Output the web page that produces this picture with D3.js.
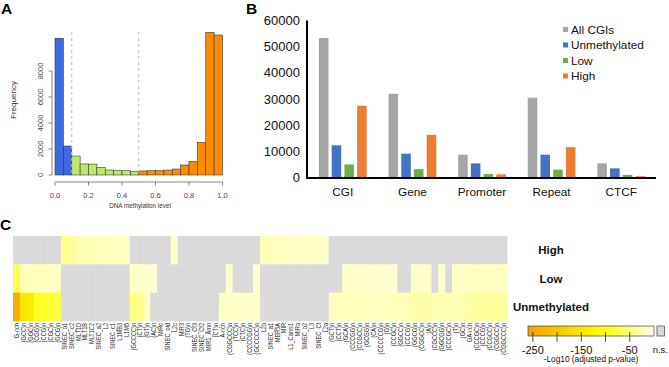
<!DOCTYPE html>
<html><head><meta charset="utf-8">
<script src="https://cdn.jsdelivr.net/npm/d3@7"></script>
<style>
body{margin:0;background:#fff;}
svg{display:block;font-family:"Liberation Sans",Arial,sans-serif;}
</style></head>
<body>
<svg id="c" width="669" height="367"></svg>
<script>
// ---------- Panel A data ----------
const histCounts = [10520, 2230, 1460, 850, 840, 590, 385, 330, 330, 260,
                    310, 330, 340, 380, 460, 770, 1050, 2510, 10970, 10770];
const histBinWidth = 0.05;
const histGroups = ["u","u","l","l","l","l","l","l","l","l",
                    "h","h","h","h","h","h","h","h","h","h"];
const histYTicks = [0, 2000, 4000, 6000, 8000];
const histXTicks = [0, 0.2, 0.4, 0.6, 0.8, 1.0];
const cutoffs = [0.1, 0.5];

// ---------- Panel B data ----------
const bCategories = ["CGI", "Gene", "Promoter", "Repeat", "CTCF"];
const bSeries = ["All CGIs", "Unmethylated", "Low", "High"];
const allCGIs = [53300, 32000, 8700, 30500, 5400];
const unmethylated = [12300, 9100, 5400, 8700, 3500];
const lowCounts = [5000, 3200, 1300, 3000, 1000];
const highCounts = [27400, 16300, 1200, 11600, 500];
const bYTicks = [0, 10000, 20000, 30000, 40000, 50000, 60000];

// ---------- Panel C data ----------
const colLabels = ["G-rich","(GCC)n","(GGC)n","(CGG)n","(CCG)n","(CGC)n","(GCG)n",
 "SINEC_b1","SINEC_c2","MLT1D","MLT1B","MLT1C2","SINEC_a2","L2","SINEC_c1","L1MB3","L1M5",
 "(GCCCC)n","(CT)n","(GT)n","(AC)n","MIRc","SINEC_old","L2c","MIR3","(TG)n","SINEC_Cf3","SINEC_Cf2",
 "MIR1_Amn","(CT)n","A-rich","(CGGCCC)n","(TCC)n","(CTC)n","(CCCCGG)n","(GCCCCC)n",
 "L2b","SINEC_a1","MER5A","MIR","L1_Canis1","MIRb","SINEC_b2","L3","SINEC_Cf","L2a",
 "(GCT)n","(CCT)n","(GCA)n","(CCCGG)n","(CCGCC)n","(GCGG)n","(CA)n","(CCCCCG)n","(G)n","(CCGC)n",
 "(GGCC)n","(CCCG)n","(GGCG)n","(CGGCC)n","(A)n","(CGCCC)n","(GGCGG)n","(CCCGC)n","(T)n","(GC)n",
 "GA-rich","(CCCGC)n","(CCCG)n","(CCGCC)n","(CGGCC)n","(CGGCCC)n"];
const rowLabels = ["High", "Low", "Unmethylated"];
const N = null;
const highVals = [N,N,N,N,N,N,N,
 -45,-38,-28,-25,-25,-22,-22,-20,-20,-18,
 N,N,N,N,N,N,-15,N,N,N,N,
 N,N,N,N,N,N,N,N,
 -22,-20,-18,-18,-18,-16,-16,-16,-15,-15,
 N,N,N,N,N,N,N,N,N,N,
 N,N,N,N,N,N,N,N,N,N,
 N,N,N,N,N,N];
const lowVals = [-70,-25,-22,-20,-20,-18,-18,
 N,N,N,N,N,N,N,N,N,N,
 -18,-15,-12,-12,N,N,N,N,N,N,N,
 N,N,N,-12,N,N,N,-12,
 N,N,N,N,N,N,N,N,N,N,
 N,N,-14,-14,-13,-13,-12,-12,-12,-12,
 N,N,-14,-14,-13,N,-13,N,-15,-15,
 -18,-18,-18,-20,-20,-20];
const unmethVals = [-235,-150,-140,-95,-92,-85,-80,
 N,N,N,N,N,N,N,N,N,N,
 -50,-45,-20,N,N,N,N,N,N,N,N,
 N,N,-15,-15,-15,-15,-15,-15,
 N,N,N,N,N,N,N,N,N,N,
 -20,-22,-22,-20,-20,-20,-18,-20,-20,-22,
 -22,-25,-30,-30,-30,-25,-25,-22,-22,-25,
 -30,-35,-35,-35,-35,-35];
const legendTicks = [-250, -200, -150, -100, -50];
const legendLabels = [-250, -150, -50];

const svg = d3.select("#c");

// ================= Panel A =================
const ax = d3.scaleLinear().domain([0, 1]).range([55, 222.5]);
const ay = d3.scaleLinear().domain([0, 8000]).range([175, 71]);
const histColor = {u: "#4169e1", l: "#bce86a", h: "#ff8c00"};
const gA = svg.append("g");
gA.selectAll("rect.h").data(histCounts).join("rect")
  .attr("x", (d, i) => ax(i * histBinWidth))
  .attr("width", (d, i) => ax((i + 1) * histBinWidth) - ax(i * histBinWidth))
  .attr("y", d => ay(d)).attr("height", d => ay(0) - ay(d))
  .attr("fill", (d, i) => histColor[histGroups[i]])
  .attr("stroke", "#3a3a3a").attr("stroke-width", 0.6);
gA.selectAll("line.cut").data(cutoffs).join("line")
  .attr("x1", d => ax(d)).attr("x2", d => ax(d)).attr("y1", 32).attr("y2", 175)
  .attr("stroke", "#b8b8b8").attr("stroke-width", 1).attr("stroke-dasharray", "3,3");
// y axis
gA.append("line").attr("x1", 52).attr("x2", 52).attr("y1", ay(0)).attr("y2", ay(8000)).attr("stroke", "#555").attr("stroke-width", 0.7);
gA.selectAll("line.yt").data(histYTicks).join("line")
  .attr("x1", 48.5).attr("x2", 52).attr("y1", d => ay(d)).attr("y2", d => ay(d)).attr("stroke", "#555").attr("stroke-width", 0.7);
gA.selectAll("text.yt").data(histYTicks).join("text")
  .attr("transform", d => `translate(43,${ay(d)}) rotate(-90)`)
  .attr("text-anchor", "middle").attr("font-size", 7.5).attr("fill", "#444").text(d => d);
gA.append("text").attr("transform", "translate(16,100) rotate(-90)").attr("text-anchor", "middle")
  .attr("font-size", 8).attr("fill", "#333").text("Frequency");
// x axis
gA.append("line").attr("x1", ax(0)).attr("x2", ax(1)).attr("y1", 182).attr("y2", 182).attr("stroke", "#555").attr("stroke-width", 0.7);
gA.selectAll("line.xt").data(histXTicks).join("line")
  .attr("x1", d => ax(d)).attr("x2", d => ax(d)).attr("y1", 182).attr("y2", 185.5).attr("stroke", "#555").attr("stroke-width", 0.7);
gA.selectAll("text.xt").data(histXTicks).join("text")
  .attr("x", d => ax(d)).attr("y", 198).attr("text-anchor", "middle")
  .attr("font-size", 7.5).attr("fill", "#444").text(d => d.toFixed(1));
gA.append("text").attr("x", 140).attr("y", 207.5).attr("text-anchor", "middle")
  .attr("font-size", 6.3).attr("fill", "#333").text("DNA methylation level");
svg.append("text").attr("x", 1).attr("y", 13.5).attr("font-size", 15.5).attr("font-weight", "bold").text("A");

// ================= Panel B =================
const bx = d3.scaleBand().domain(bCategories).range([308, 656]);
const bxs = d3.scaleBand().domain(bSeries).range([0, bx.bandwidth()]).paddingInner(0.25).paddingOuter(0.86);
const by = d3.scaleLinear().domain([0, 60000]).range([177.5, 20.5]);
const bColors = ["#a5a5a5", "#4472c4", "#70ad47", "#ed7d31"];
const bData = [allCGIs, unmethylated, lowCounts, highCounts];
const gB = svg.append("g");
bData.forEach((vals, si) => {
  gB.selectAll(null).data(vals).join("rect")
    .attr("x", (d, i) => bx(bCategories[i]) + bxs(bSeries[si]))
    .attr("width", bxs.bandwidth())
    .attr("y", d => by(d)).attr("height", d => by(0) - by(d))
    .attr("fill", bColors[si]);
});
gB.append("line").attr("x1", 307).attr("x2", 307).attr("y1", by(60000)).attr("y2", by(0) + 1).attr("stroke", "#000").attr("stroke-width", 2);
gB.append("line").attr("x1", 306).attr("x2", 656).attr("y1", by(0) + 0.5).attr("y2", by(0) + 0.5).attr("stroke", "#000").attr("stroke-width", 2);
gB.selectAll("text.byt").data(bYTicks).join("text")
  .attr("x", 300).attr("y", d => by(d)).attr("dy", "0.35em").attr("text-anchor", "end")
  .attr("font-size", 13).attr("fill", "#111").text(d => d);
gB.selectAll("text.bxc").data(bCategories).join("text")
  .attr("x", d => bx(d) + bx.bandwidth() / 2).attr("y", 192).attr("dy", "0.35em").attr("text-anchor", "middle")
  .attr("font-size", 11.8).attr("fill", "#111").text(d => d);
const leg = gB.selectAll("g.leg").data(bSeries).join("g")
  .attr("transform", (d, i) => `translate(563,${29.5 + i * 15.5})`);
leg.append("rect").attr("x", 0).attr("y", -2.5).attr("width", 5).attr("height", 5).attr("fill", (d, i) => bColors[i]);
leg.append("text").attr("x", 8).attr("y", 0).attr("dy", "0.35em").attr("font-size", 11.8).attr("fill", "#111").text(d => d);
svg.append("text").attr("x", 246).attr("y", 13.5).attr("font-size", 15.5).attr("font-weight", "bold").text("B");

// ================= Panel C =================
const idx = d3.range(colLabels.length);
const hx = d3.scaleBand().domain(idx).range([13, 507]);
const hy = d3.scaleBand().domain(rowLabels).range([236, 321]);
const hColor = d3.scaleLinear().domain([-260, -110, 0]).range(["#f5a000", "#ffff00", "#ffffe8"]).clamp(true);
const naColor = "#dadada";
const rows = [highVals, lowVals, unmethVals];
const gC = svg.append("g");
rows.forEach((vals, ri) => {
  gC.selectAll(null).data(vals).join("rect")
    .attr("x", (d, i) => hx(i)).attr("width", hx.bandwidth() + 0.4)
    .attr("y", hy(rowLabels[ri])).attr("height", hy.bandwidth() + 0.4)
    .attr("fill", d => d === null ? naColor : hColor(d));
});
gC.selectAll("text.cl").data(colLabels).join("text")
  .attr("transform", (d, i) => `translate(${hx(i) + hx.bandwidth() / 2},323) rotate(-90) scale(0.8,1)`)
  .attr("text-anchor", "end").attr("dy", "0.35em").attr("font-size", 7).attr("fill", "#2a2a2a").text(d => d);
gC.selectAll("text.rl").data(rowLabels).join("text")
  .attr("x", 551).attr("y", d => hy(d) + hy.bandwidth() / 2).attr("dy", "0.35em").attr("text-anchor", "middle")
  .attr("font-size", 11.5).attr("font-weight", "bold").attr("fill", "#111").text(d => d);
svg.append("text").attr("x", 0).attr("y", 230).attr("font-size", 15.5).attr("font-weight", "bold").text("C");

// colour legend
const lx = d3.scaleLinear().domain([-260, 0]).range([528, 654]);
const defs = svg.append("defs");
const grad = defs.append("linearGradient").attr("id", "lg").attr("x1", "0%").attr("x2", "100%");
d3.range(0, 1.0001, 0.05).forEach(t => {
  grad.append("stop").attr("offset", (t * 100) + "%").attr("stop-color", hColor(lx.invert(528 + t * 126)));
});
gC.append("rect").attr("x", 528).attr("y", 326).attr("width", 126).attr("height", 10)
  .attr("fill", "url(#lg)").attr("stroke", "#444").attr("stroke-width", 0.7);
gC.append("rect").attr("x", 657).attr("y", 326).attr("width", 7.5).attr("height", 10)
  .attr("fill", naColor).attr("stroke", "#444").attr("stroke-width", 0.7);
gC.selectAll("line.lt").data(legendTicks).join("line")
  .attr("x1", d => lx(d)).attr("x2", d => lx(d)).attr("y1", 332).attr("y2", 342)
  .attr("stroke", "#222").attr("stroke-width", 0.8);
gC.selectAll("text.ltl").data(legendLabels).join("text")
  .attr("x", d => lx(d)).attr("y", 350).attr("dy", "0.35em").attr("text-anchor", "middle")
  .attr("font-size", 11).attr("fill", "#111").text(d => d);
gC.append("text").attr("x", 668).attr("y", 350).attr("dy", "0.35em").attr("text-anchor", "end")
  .attr("font-size", 9.5).attr("fill", "#111").text("n.s.");
gC.append("text").attr("x", 591).attr("y", 359.5).attr("dy", "0.35em").attr("text-anchor", "middle")
  .attr("font-size", 8.3).attr("fill", "#111").text("-Log10 (adjusted p-value)");
</script>
</body></html>
